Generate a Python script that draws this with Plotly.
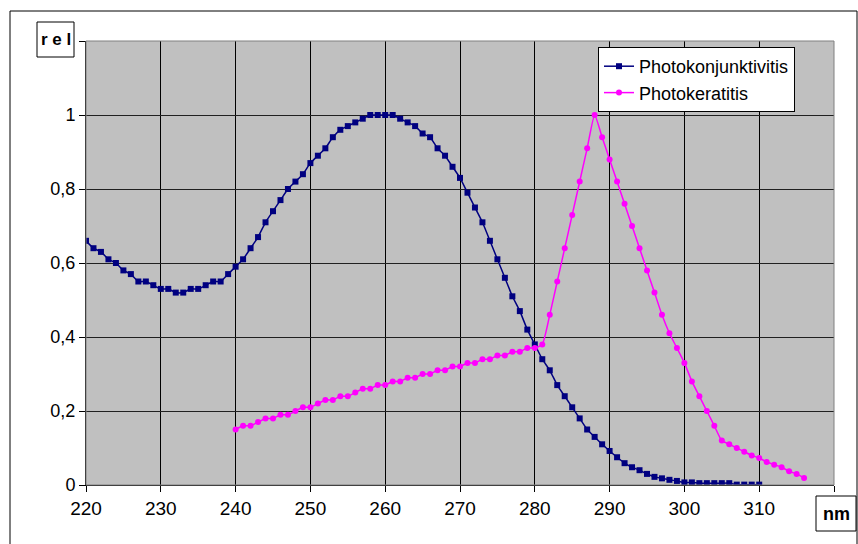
import plotly.graph_objects as go

# ---- data ----
wl_konj = [220, 221, 222, 223, 224, 225, 226, 227, 228, 229,
           230, 231, 232, 233, 234, 235, 236, 237, 238, 239,
           240, 241, 242, 243, 244, 245, 246, 247, 248, 249,
           250, 251, 252, 253, 254, 255, 256, 257, 258, 259,
           260, 261, 262, 263, 264, 265, 266, 267, 268, 269,
           270, 271, 272, 273, 274, 275, 276, 277, 278, 279,
           280, 281, 282, 283, 284, 285, 286, 287, 288, 289,
           290, 291, 292, 293, 294, 295, 296, 297, 298, 299,
           300, 301, 302, 303, 304, 305, 306, 307, 308, 309, 310]
rel_konj = [0.66, 0.64, 0.63, 0.61, 0.60, 0.58, 0.57, 0.55, 0.55, 0.54,
            0.53, 0.53, 0.52, 0.52, 0.53, 0.53, 0.54, 0.55, 0.55, 0.57,
            0.59, 0.61, 0.64, 0.67, 0.71, 0.74, 0.77, 0.80, 0.82, 0.84,
            0.87, 0.89, 0.91, 0.94, 0.96, 0.97, 0.98, 0.99, 1.0, 1.0,
            1.0, 1.0, 0.99, 0.98, 0.97, 0.95, 0.94, 0.91, 0.89, 0.86,
            0.83, 0.79, 0.75, 0.71, 0.66, 0.61, 0.56, 0.51, 0.47, 0.42,
            0.38, 0.34, 0.31, 0.27, 0.24, 0.21, 0.18, 0.15, 0.13, 0.11,
            0.092, 0.075, 0.059, 0.048, 0.040, 0.030, 0.022, 0.018, 0.014, 0.011,
            0.007, 0.007, 0.005, 0.005, 0.005, 0.005, 0.005, 0.001, 0.001, 0.001, 0.001]

wl_kera = [240, 241, 242, 243, 244, 245, 246, 247, 248, 249,
           250, 251, 252, 253, 254, 255, 256, 257, 258, 259,
           260, 261, 262, 263, 264, 265, 266, 267, 268, 269,
           270, 271, 272, 273, 274, 275, 276, 277, 278, 279,
           280, 281, 282, 283, 284, 285, 286, 287, 288, 289,
           290, 291, 292, 293, 294, 295, 296, 297, 298, 299,
           300, 301, 302, 303, 304, 305, 306, 307, 308, 309,
           310, 311, 312, 313, 314, 315, 316]
rel_kera = [0.15, 0.16, 0.16, 0.17, 0.18, 0.18, 0.19, 0.19, 0.20, 0.21,
            0.21, 0.22, 0.23, 0.23, 0.24, 0.24, 0.25, 0.26, 0.26, 0.27,
            0.27, 0.28, 0.28, 0.29, 0.29, 0.30, 0.30, 0.31, 0.31, 0.32,
            0.32, 0.33, 0.33, 0.34, 0.34, 0.35, 0.35, 0.36, 0.36, 0.37,
            0.37, 0.38, 0.46, 0.55, 0.64, 0.73, 0.82, 0.91, 1.0, 0.94,
            0.88, 0.82, 0.76, 0.70, 0.64, 0.58, 0.52, 0.46, 0.41, 0.37,
            0.33, 0.28, 0.24, 0.20, 0.16, 0.12, 0.11, 0.10, 0.09, 0.08,
            0.073, 0.062, 0.055, 0.048, 0.037, 0.030, 0.019]

x_tickvals = [220, 230, 240, 250, 260, 270, 280, 290, 300, 310, 320]
x_ticktext = ["220", "230", "240", "250", "260", "270", "280", "290", "300", "310", ""]
y_tickvals = [0, 0.2, 0.4, 0.6, 0.8, 1.0, 1.2]
y_ticktext = ["0", "0,2", "0,4", "0,6", "0,8", "1", ""]

name_konj = "Photokonjunktivitis"
name_kera = "Photokeratitis"

# ---- figure ----
W, H = 858, 544
L, R, T, B = 86, 24, 41, 59
pw, ph = W - L - R, H - T - B


def px_x(p):
    return (p - L) / pw


def px_y(p):
    return (H - B - p) / ph


font_family = "Liberation Sans, Arial, sans-serif"

fig = go.Figure()
fig.add_trace(go.Scatter(
    x=wl_konj, y=rel_konj, name=name_konj, mode="lines+markers",
    line=dict(color="#000080", width=1.5, shape="spline", smoothing=0.5),
    marker=dict(symbol="square", size=6, color="#000080"),
))
fig.add_trace(go.Scatter(
    x=wl_kera, y=rel_kera, name=name_kera, mode="lines+markers",
    line=dict(color="#FF00FF", width=1.5, shape="spline", smoothing=0.5),
    marker=dict(symbol="circle", size=6, color="#FF00FF"),
))

fig.update_layout(
    width=W, height=H,
    margin=dict(l=L, r=R, t=T, b=B, pad=0),
    paper_bgcolor="white",
    plot_bgcolor="#C0C0C0",
    font=dict(family=font_family, color="black", size=17),
    showlegend=True,
    legend=dict(
        x=px_x(598), y=px_y(47), xanchor="left", yanchor="top",
        bgcolor="white", bordercolor="black", borderwidth=1,
        font=dict(size=18, family=font_family),
        tracegroupgap=0, itemwidth=30,
    ),
    xaxis=dict(
        range=[220, 320], tickvals=x_tickvals, ticktext=x_ticktext,
        showgrid=True, gridcolor="black", gridwidth=1,
        zeroline=False, showline=True, linecolor="black", linewidth=1,
        ticks="outside", ticklen=6, tickcolor="black",
        tickfont=dict(size=19, family=font_family),
    ),
    yaxis=dict(
        range=[0, 1.2], tickvals=y_tickvals, ticktext=y_ticktext,
        showgrid=True, gridcolor="#202020", gridwidth=1,
        zeroline=False, showline=True, linecolor="black", linewidth=1,
        ticks="outside", ticklen=6, tickcolor="black",
        tickfont=dict(size=18, family=font_family),
    ),
    shapes=[
        dict(type="rect", xref="paper", yref="paper", x0=0, x1=1, y0=0, y1=1,
             line=dict(color="#808080", width=1), layer="above"),
        dict(type="rect", xref="paper", yref="paper",
             x0=px_x(10), x1=px_x(857), y0=px_y(560), y1=px_y(11),
             line=dict(color="black", width=1)),
        dict(type="rect", xref="paper", yref="paper",
             x0=px_x(37), x1=px_x(74), y0=px_y(57), y1=px_y(22),
             line=dict(color="black", width=1), fillcolor="white"),
        dict(type="rect", xref="paper", yref="paper",
             x0=px_x(816), x1=px_x(856), y0=px_y(531), y1=px_y(496),
             line=dict(color="black", width=1), fillcolor="white"),
    ],
    annotations=[
        dict(text="<b>r e l</b>", xref="paper", yref="paper",
             x=px_x(55.5), y=px_y(39.5), xanchor="center", yanchor="middle",
             showarrow=False, font=dict(size=17, family=font_family)),
        dict(text="<b>nm</b>", xref="paper", yref="paper",
             x=px_x(836), y=px_y(513.5), xanchor="center", yanchor="middle",
             showarrow=False, font=dict(size=18, family=font_family)),
    ],
)

fig.update_xaxes(layer="above traces")

fig.write_html(
    "out.html",
    config={"displayModeBar": False},
    post_script="document.body.style.margin='0';document.body.style.padding='0';",
)
